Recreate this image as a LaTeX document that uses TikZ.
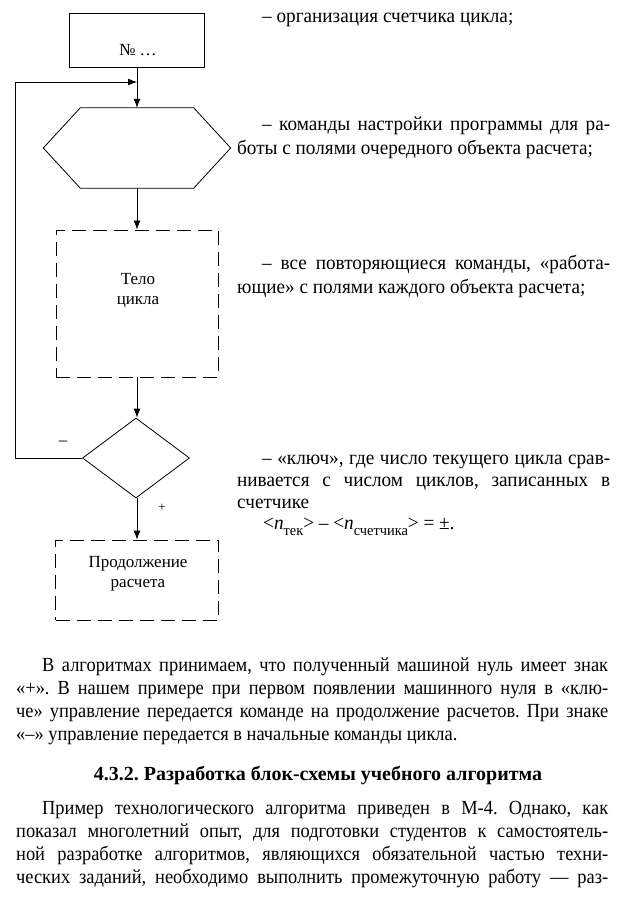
\documentclass[tikz,border=0pt]{standalone}
\usepackage{fontspec}
\setmainfont{Liberation Serif}
\newfontfamily\condfont{Liberation Serif}[FakeStretch=0.92]
\newfontfamily\semicondfont{Liberation Serif}[FakeStretch=0.96]
\usetikzlibrary{arrows.meta,shapes.geometric}
\frenchspacing
\tikzset{
  ln/.style={line width=0.8pt},
  arr/.style={line width=0.8pt, -{Latex[length=9pt,width=7pt]}},
  blk/.style={draw, line width=0.8pt, inner sep=0pt},
  dbox/.style={blk, dash pattern=on 14pt off 7pt},
  btxt/.style={inner sep=0pt, align=center, font=\fontsize{17}{20}\selectfont},
  txt/.style={anchor=base west, inner sep=0pt, font=\semicondfont\fontsize{20}{23}\selectfont},
  ptxt/.style={anchor=base west, inner sep=0pt, font=\condfont\fontsize{20}{23}\selectfont},
  htxt/.style={anchor=base, inner sep=0pt, font=\fontsize{20}{23}\selectfont\bfseries}
}
\begin{document}
\begin{tikzpicture}[x=1pt,y=-1pt]
\useasboundingbox[fill=white] (0,0) rectangle (641,901);
% blocks
\node[blk, minimum width=135pt, minimum height=54pt] (n1) at (137,40) {};
\node[btxt] (n1t) at (138,50) {№ …};
\node[minimum width=113pt, minimum height=80pt, inner sep=0pt] (hex) at (137,148) {};
\draw[ln] (hex.north west) -- ([xshift=-37pt]hex.west) -- (hex.south west) -- (hex.south east) -- ([xshift=37pt]hex.east) -- (hex.north east) -- cycle;
\node[dbox, minimum width=162pt, minimum height=147pt] (body) at (137,303.5) {};
\node[btxt] (bodyt) at (138,291) {Тело\\цикла};
\node[diamond, blk, minimum width=107pt, minimum height=80pt] (dia) at (136,458) {};
\node[dbox, minimum width=163pt, minimum height=80pt] (cont) at (137,580) {};
\node[btxt] (contt) at (138,574) {Продолжение\\расчета};
% connectors
\coordinate (lc) at (15,82);
\coordinate (jn) at (137,82);
\draw[arr] (n1.south) -- (hex.north);
\draw[arr] (hex.south) -- (body.north);
\draw[arr] (body.south) -- (body.south |- dia.north);
\draw[arr] (body.south |- dia.south) -- (cont.north);
\draw[arr] (dia.west) -| (lc) -- (jn);
\node[btxt] (lminus) at (63,443) {–};
\node[btxt, font=\fontsize{13}{13}\selectfont] (lplus) at (162,508) {+};
% right column
\node[txt] (r1) at (262,23) {– организация счетчика цикла;};
\node[txt] (r2) at (262,131) {\makebox[348pt][s]{– команды настройки программы для ра-}};
\node[txt] (r3) at (237,155) {боты с полями очередного объекта расчета;};
\node[txt] (r4) at (262,269) {\makebox[348pt][s]{– все повторяющиеся команды, «работа-}};
\node[txt] (r5) at (237,293) {ющие» с полями каждого объекта расчета;};
\node[txt] (r6) at (262,464) {\makebox[348pt][s]{– «ключ», где число текущего цикла срав-}};
\node[txt] (r7) at (237,486) {\makebox[373pt][s]{нивается с числом циклов, записанных в}};
\node[txt] (r8) at (237,508) {счетчике};
\node[txt] (r9) at (263,529) {<\textit{n}\raisebox{-6pt}{\fontsize{15}{15}\selectfont тек}>~– <\textit{n}\raisebox{-6pt}{\fontsize{15}{15}\selectfont счетчика}> = ±.};
% bottom text
\node[ptxt] (p1) at (42,671) {\makebox[566pt][s]{В алгоритмах принимаем, что полученный машиной нуль имеет знак}};
\node[ptxt] (p2) at (16,694) {\makebox[592pt][s]{«+». В нашем примере при первом появлении машинного нуля в «клю-}};
\node[ptxt] (p3) at (16,717) {\makebox[592pt][s]{че» управление передается команде на продолжение расчетов. При знаке}};
\node[ptxt] (p4) at (16,740) {«–» управление передается в начальные команды цикла.};
\node[htxt] (hd) at (318,780) {4.3.2. Разработка блок-схемы учебного алгоритма};
\node[ptxt] (q1) at (42,814) {\makebox[566pt][s]{Пример технологического алгоритма приведен в М-4. Однако, как}};
\node[ptxt] (q2) at (16,837) {\makebox[592pt][s]{показал многолетний опыт, для подготовки студентов к самостоятель-}};
\node[ptxt] (q3) at (16,860) {\makebox[592pt][s]{ной разработке алгоритмов, являющихся обязательной частью техни-}};
\node[ptxt] (q4) at (16,883) {\makebox[592pt][s]{ческих заданий, необходимо выполнить промежуточную работу — раз-}};
\end{tikzpicture}
\end{document}
